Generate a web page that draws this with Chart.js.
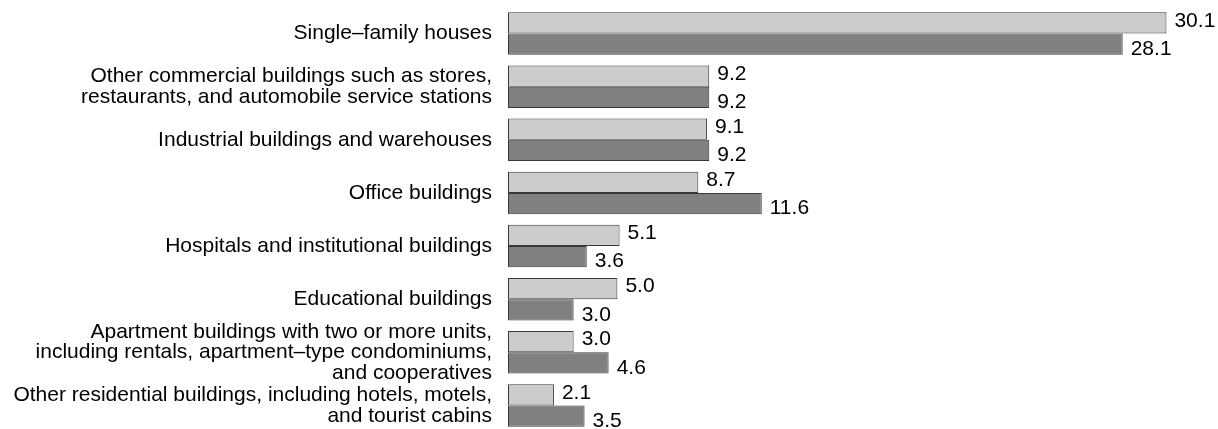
<!DOCTYPE html>
<html>
<head>
<meta charset="utf-8">
<script src="https://cdn.jsdelivr.net/npm/chart.js@4.4.1/dist/chart.umd.min.js"></script>
<style>
  html, body { margin: 0; padding: 0; background: #fff; overflow: hidden; }
  #wrap { position: relative; width: 1218px; height: 440px; }
</style>
</head>
<body>
<div id="wrap"><canvas id="chart"></canvas></div>
<script>
const categories = [
  ['Single–family houses'],
  ['Other commercial buildings such as stores,', 'restaurants, and automobile service stations'],
  ['Industrial buildings and warehouses'],
  ['Office buildings'],
  ['Hospitals and institutional buildings'],
  ['Educational buildings'],
  ['Apartment buildings with two or more units,', 'including rentals, apartment–type condominiums,', 'and cooperatives'],
  ['Other residential buildings, including hotels, motels,', 'and tourist cabins']
];
const lightValues = [30.1, 9.2, 9.1, 8.7, 5.1, 5.0, 3.0, 2.1];
const darkValues = [28.1, 9.2, 9.2, 11.6, 3.6, 3.0, 4.6, 3.5];

const FONT = "'Liberation Sans', Arial, Helvetica, sans-serif";

// writes the value to the right of each bar
const valueLabels = {
  id: 'valueLabels',
  afterDatasetsDraw(chart) {
    const ctx = chart.ctx;
    ctx.save();
    ctx.font = '21px ' + FONT;
    ctx.fillStyle = '#000';
    ctx.textAlign = 'left';
    ctx.textBaseline = 'middle';
    chart.data.datasets.forEach((ds, i) => {
      const shift = i === 0 ? -2 : 5;
      chart.getDatasetMeta(i).data.forEach((bar, j) => {
        ctx.fillText(ds.data[j].toFixed(1), bar.x + 8, bar.y + shift);
      });
    });
    ctx.restore();
  }
};

new Chart(document.getElementById('chart'), {
  type: 'bar',
  data: {
    labels: categories,
    datasets: [
      {
        data: lightValues,
        backgroundColor: '#cccccc',
        borderColor: '#383838',
        borderWidth: 1,
        borderSkipped: false
      },
      {
        data: darkValues,
        backgroundColor: '#808080',
        borderColor: '#383838',
        borderWidth: 1,
        borderSkipped: false
      }
    ]
  },
  options: {
    indexAxis: 'y',
    responsive: true,
    maintainAspectRatio: false,
    animation: false,
    categoryPercentage: 0.8,
    barPercentage: 1,
    layout: { padding: { top: 7, bottom: 8, left: 0, right: 10 } },
    plugins: {
      legend: { display: false },
      tooltip: { enabled: false }
    },
    scales: {
      x: {
        display: false,
        min: 0,
        max: 32
      },
      y: {
        grid: { display: false, drawTicks: false },
        border: { display: false },
        afterFit(scale) {
          scale.width = 508;
          scale.paddingTop = 0;
          scale.paddingBottom = 0;
        },
        ticks: {
          autoSkip: false,
          padding: 16,
          color: '#000',
          font: { family: FONT, size: 21, lineHeight: 0.98 }
        }
      }
    }
  },
  plugins: [valueLabels]
});
</script>
</body>
</html>
